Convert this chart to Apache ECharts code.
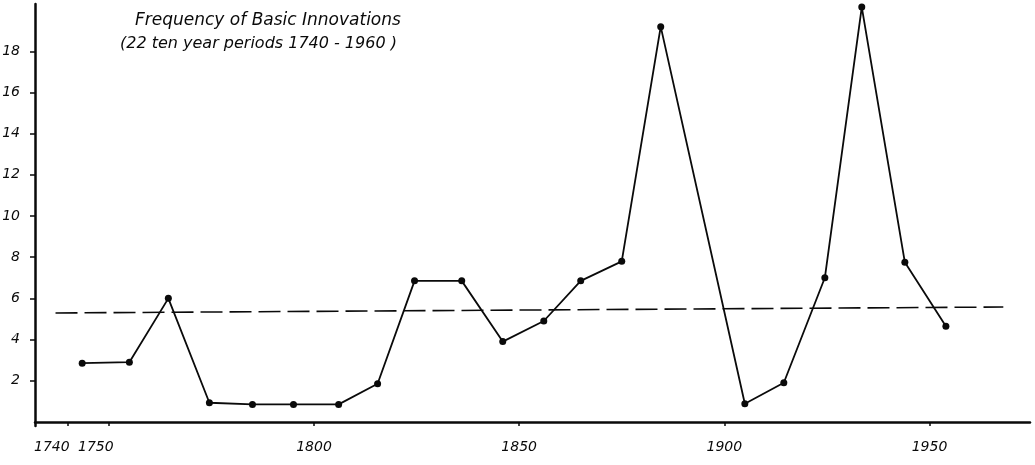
<!DOCTYPE html>
<html>
<head>
<meta charset="utf-8">
<script src="https://cdn.jsdelivr.net/npm/echarts@6/dist/echarts.min.js"></script>
<style>
  html, body { margin: 0; padding: 0; background: #fff; }
  #container { width: 1035px; height: 465px; }
</style>
</head>
<body>
<div id="container"></div>
<script>
// mid-points of the ten year periods, as drawn
var years = [1743.5, 1755, 1764.5, 1774.5, 1785, 1795, 1806, 1815.5, 1824.5, 1836, 1846,
  1856, 1865, 1875, 1884.5, 1905, 1914.5, 1924.5, 1933.5, 1944, 1954];
var innovations = [2.85, 2.9, 6.0, 0.93, 0.85, 0.85, 0.85, 1.85, 6.85, 6.85, 3.9,
  4.9, 6.85, 7.8, 19.2, 0.88, 1.9, 7.0, 20.15, 7.75, 4.65];
// dashed trend line, two ends
var trendYears = [1737, 1968];
var trendValues = [5.29, 5.58];
var xTicks = [1740, 1750, 1800, 1850, 1900, 1950];
var yTicks = [2, 4, 6, 8, 10, 12, 14, 16, 18];

var font = "DejaVu Sans";
var ink = "#0a0a0a";

var chart = echarts.init(document.getElementById("container"));

var labelStyle = { fontFamily: font, fontStyle: "italic", fontSize: 14, color: ink };

var option = {
  animation: false,
  backgroundColor: "#fff",
  title: [
    {
      text: "Frequency of Basic Innovations",
      left: 130, top: 7,
      textStyle: { fontFamily: font, fontStyle: "italic", fontWeight: "normal", fontSize: 17, color: ink }
    },
    {
      text: "(22 ten year periods 1740 - 1960 )",
      left: 115, top: 31,
      textStyle: { fontFamily: font, fontStyle: "italic", fontWeight: "normal", fontSize: 16, color: ink }
    }
  ],
  grid: { left: 35, right: 5, top: 4, bottom: 39, outerBoundsMode: "none" },
  xAxis: {
    type: "value",
    min: 1732,
    max: 1974.5,
    splitLine: { show: false },
    axisLine: { lineStyle: { color: ink, width: 2.5 } },
    axisTick: { customValues: xTicks, length: 4, lineStyle: { color: ink, width: 1.5 } },
    axisLabel: Object.assign({
      customValues: xTicks,
      margin: 14,
      hideOverlap: false,
      formatter: function (v) {
        // 1740 and 1750 sit a little left of their ticks in the original
        if (v === 1740) return "{l|" + v + "}";
        if (v === 1750) return "{m|" + v + "}";
        return String(v);
      },
      rich: {
        l: Object.assign({ padding: [0, 32, 0, 0] }, labelStyle),
        m: Object.assign({ padding: [0, 26, 0, 0] }, labelStyle)
      }
    }, labelStyle)
  },
  yAxis: {
    type: "value",
    min: -0.2,
    max: 20.3,
    splitLine: { show: false },
    axisLine: { show: true, lineStyle: { color: ink, width: 2.5 } },
    axisTick: { show: true, customValues: yTicks, length: 5, lineStyle: { color: ink, width: 1.5 } },
    axisLabel: Object.assign({
      customValues: yTicks,
      margin: 15
    }, labelStyle)
  },
  series: [
    {
      name: "innovations",
      type: "line",
      data: years.map(function (y, i) { return [y, innovations[i]]; }),
      symbol: "circle",
      symbolSize: 7,
      clip: false,
      itemStyle: { color: ink },
      lineStyle: { color: ink, width: 1.8 }
    },
    {
      name: "trend",
      type: "line",
      data: trendYears.map(function (y, i) { return [y, trendValues[i]]; }),
      symbol: "none",
      lineStyle: { color: ink, width: 1.6, type: [22, 7] }
    }
  ]
};

chart.setOption(option);
</script>
</body>
</html>
